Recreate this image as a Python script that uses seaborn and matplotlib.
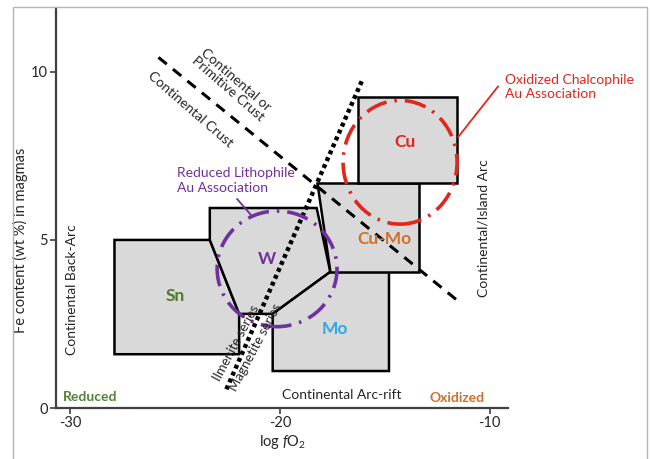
import matplotlib
matplotlib.use("Agg")
import matplotlib.pyplot as plt
import seaborn as sns
import pandas as pd
from matplotlib.patches import Polygon, Ellipse, Rectangle

# field outlines (log fO2, Fe wt%)
sn_x = [-27.9, -23.35, -21.95, -21.95, -27.9]
sn_y = [5.0, 5.0, 2.8, 1.6, 1.6]
w_x = [-23.35, -18.25, -17.6, -20.35, -21.95, -23.35]
w_y = [5.95, 5.95, 4.05, 2.8, 2.8, 5.0]
mo_x = [-20.35, -17.6, -14.8, -14.8, -20.35]
mo_y = [2.8, 4.05, 4.05, 1.1, 1.1]
cumo_x = [-18.25, -13.35, -13.35, -17.6]
cumo_y = [6.7, 6.7, 4.05, 4.05]
cu_x = [-16.3, -11.55, -11.55, -16.3]
cu_y = [9.25, 9.25, 6.7, 6.7]

# boundary lines
crust_x = [-25.8, -11.4]
crust_y = [10.43, 3.13]
series_x = [-16.1, -22.6]
series_y = [9.72, 0.5]

# association ellipses: centre x, centre y, half width, half height
oxid_circle = [-14.27, 7.31, 2.72, 1.84]
red_circle = [-20.14, 4.14, 2.86, 1.72]

fields = [
    ("Sn", sn_x, sn_y, -25.0, 3.34, "#4f7a2c"),
    ("W", w_x, w_y, -20.62, 4.44, "#7030a0"),
    ("Mo", mo_x, mo_y, -17.37, 2.36, "#2ea8e0"),
    ("Cu-Mo", cumo_x, cumo_y, -15.0, 5.03, "#cf6f28"),
    ("Cu", cu_x, cu_y, -14.03, 7.91, "#e3261c"),
]

sns.set_theme(style="white")
plt.rcParams['font.family'] = ['Lato', 'DejaVu Sans']
plt.rcParams['mathtext.fontset'] = 'custom'
plt.rcParams['mathtext.rm'] = 'Lato'
plt.rcParams['mathtext.it'] = 'Lato:italic'
plt.rcParams['axes.unicode_minus'] = False

fig = plt.figure(figsize=(6.51, 4.59), dpi=100)
ax = fig.add_axes([56 / 651, 1 - 408 / 459, (508 - 56) / 651, 400 / 459])

for name, xs, ys, tx, ty, col in fields:
    ax.add_patch(Polygon(list(zip(xs, ys)), closed=True, facecolor="#d9d9d9",
                         edgecolor="black", lw=1.8, zorder=1))
    ax.text(tx, ty, name, color=col, fontsize=12.5, fontweight="bold",
            ha="center", va="center", zorder=6)

lines = pd.DataFrame({"x": crust_x, "y": crust_y})
sns.lineplot(data=lines, x="x", y="y", ax=ax, color="black", lw=2.2,
             linestyle=(0, (3.5, 2.6)), sort=False, zorder=3)
ser = pd.DataFrame({"x": series_x, "y": series_y})
sns.lineplot(data=ser, x="x", y="y", ax=ax, color="black", lw=3.2,
             linestyle=(0, (0.9, 0.8)), sort=False, zorder=3)

cx, cy, rx, ry = oxid_circle
ax.add_patch(Ellipse((cx, cy), 2 * rx, 2 * ry, fill=False, edgecolor="#e3261c",
                     lw=2.6, linestyle=(0, (6, 2.2, 0.7, 2.2)), zorder=4))
cx, cy, rx, ry = red_circle
ax.add_patch(Ellipse((cx, cy), 2 * rx, 2 * ry, fill=False, edgecolor="#7030a0",
                     lw=2.6, linestyle=(2, (6, 2.2, 0.7, 2.2)), zorder=4))

# leader lines
ax.plot([-22.05, -21.34], [6.22, 5.71], color="#7030a0", lw=1.3, zorder=4)
ax.plot([-9.59, -11.5], [9.57, 8.06], color="#e3261c", lw=1.3, zorder=4, clip_on=False)

ax.text(-24.92, 6.77, "Reduced Lithophile\nAu Association", color="#7030a0",
        fontsize=10, ha="left", va="center", linespacing=1.25, zorder=6)
ax.text(-9.26, 9.55, "Oxidized Chalcophile\nAu Association", color="#e3261c",
        fontsize=10, ha="left", va="center", linespacing=1.25, zorder=6, clip_on=False)
ax.text(-22.3, 9.62, "Continental or\nPrimitive Crust", fontsize=10, rotation=-41,
        ha="center", va="center", linespacing=1.0, rotation_mode="anchor", zorder=6)
ax.text(-24.3, 8.89, "Continental Crust", fontsize=10, rotation=-41,
        ha="center", va="center", rotation_mode="anchor", zorder=6)
ax.text(-29.93, 3.52, "Continental Back-Arc", fontsize=10, rotation=90,
        ha="center", va="center", zorder=6)
ax.text(-10.31, 5.36, "Continental/Island Arc", fontsize=10, rotation=90,
        ha="center", va="center", zorder=6)
ax.text(-17.04, 0.4, "Continental Arc-rift", fontsize=10, ha="center", va="center", zorder=6)
ax.text(-29.07, 0.33, "Reduced", fontsize=10, color="#548235", fontweight="bold",
        ha="center", va="center", zorder=6)
ax.text(-11.55, 0.31, "Oxidized", fontsize=10, color="#cf6f28", fontweight="bold",
        ha="center", va="center", zorder=6)
ax.text(-22.1, 1.93, "Ilmenite series", fontsize=9.5, rotation=62,
        ha="center", va="center", rotation_mode="anchor", zorder=6)
ax.text(-21.15, 1.8, "Magnetite series", fontsize=9.5, rotation=62,
        ha="center", va="center", rotation_mode="anchor", zorder=6)

ax.set_xlim(-30.69, -9.12)
ax.set_ylim(0.0, 11.9)
ax.set_xticks([-30, -20, -10])
ax.set_yticks([0, 5, 10])
ax.tick_params(axis="both", which="both", direction="out", length=4, width=1.2,
               color="#404040", labelsize=10.5, bottom=True, left=True, pad=2)
ax.set_xlabel(r"log $\mathit{f}$O$_2$", fontsize=10.5, labelpad=2)
ax.set_ylabel("Fe content (wt %) in magmas", fontsize=10.5)
ax.yaxis.set_label_coords(-0.062, 0.42)
sns.despine(ax=ax)
for s in ["left", "bottom"]:
    ax.spines[s].set_color("#404040")
    ax.spines[s].set_linewidth(1.6)

fig.add_artist(Rectangle((13 / 651, -0.05), (647 - 13) / 651, 1.05 - 7 / 459,
                         transform=fig.transFigure, fill=False,
                         edgecolor="#b5b5b5", lw=1.0))

fig.savefig("out.png", dpi=100)
